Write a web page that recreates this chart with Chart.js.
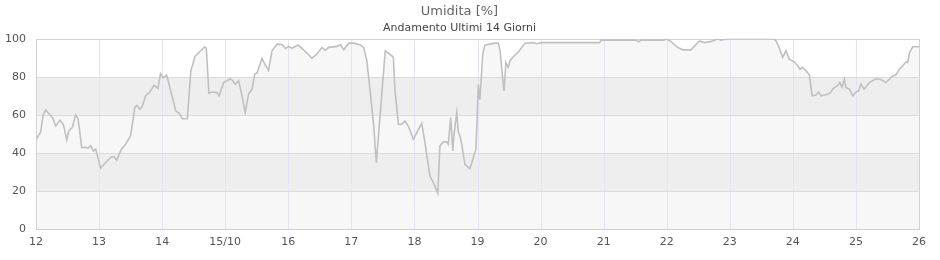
<!DOCTYPE html>
<html lang="it">
<head>
    <meta charset="UTF-8">
    <title>Umidita</title>
    <script src="https://cdn.jsdelivr.net/npm/chart.js"></script>
    <style>
        body {
            margin: 0;
            padding: 0;
            background-color: #ffffff;
        }
        #chart-container {
            width: 940px;
            height: 260px;
        }
    </style>
</head>
<body>
    <div id="chart-container">
        <canvas id="myChart"></canvas>
    </div>

    <script>
        // ore dall'inizio del periodo (12 ottobre 00:00) e umidita letta
        const ore = [
            0, 1.8, 2.7, 3.7, 5.6, 6.5, 7.5, 9.1, 10.4, 11.7, 12.6, 13.8, 15.1, 16, 17.4, 18.9, 19.8, 20.8, 21.8, 22.7,
            24.6, 26.5, 28.7, 29.7, 30.7, 32.5, 34.1, 36, 37.6, 38.4, 39.6, 40.4, 41.7, 43.3, 44.9, 46.4, 47.4, 48.4, 49.7, 50.6,
            53.2, 54.4, 55.7, 57.6, 58.9, 60.5, 62, 64.2, 64.8, 65.8, 67, 68.9, 69.7, 71.4, 73.9, 74.8, 75.8, 77.1, 78.4, 79.6,
            80.9, 82.2, 83.2, 84.1, 86, 87.3, 88.5, 89.8, 91.7, 93.6, 94.9, 96.2, 97.4, 99.7, 101.2, 103.1, 105, 106.9, 108.8, 110.1,
            111.4, 114.5, 115.8, 117.1, 119, 120.9, 123.4, 124.7, 125.9, 127.2, 128.5, 129.5, 132.9, 135.5, 136, 136.6, 137.9, 139.1, 140.4, 141.7,
            143.6, 144.9, 146.8, 148, 149.9, 151.2, 152.9, 153.7, 155, 156.3, 156.9, 157.8, 158.6, 159, 160.1, 160.7, 161.3, 162, 163.2, 165.1,
            166.4, 167.4, 167.9, 168.3, 168.9, 170, 170.8, 172.7, 174.6, 175.9, 176.6, 177.6, 178.1, 178.8, 179.7, 180.4, 182.3, 183.5, 184.8, 186.1,
            189.2, 190.5, 192.4, 214.5, 215, 228.3, 229.3, 230.2, 239, 239.7, 241.2, 244.3, 246.2, 249.3, 250.6, 252.5, 254.4, 256.5, 258.2, 259.5,
            260.6, 263.3, 280.7, 281.6, 282.8, 284.1, 285.4, 286.6, 288.5, 289.8, 290.7, 291.7, 293, 294.3, 295.3, 296.8, 297.8, 298.7, 300.6, 302.1,
            303.4, 305, 305.9, 306.7, 307.6, 308.2, 309.5, 310.8, 312, 313, 313.9, 315.1, 317.1, 319.6, 321.5, 323.4, 326, 327.2, 328.5, 329.8,
            331.1, 331.7, 332.4, 333.6, 336
        ];
        const umidita = [
            47, 51, 60, 62.6, 59.5, 58, 54.2, 57.2, 55, 46.8, 52, 53.3, 60, 58, 42.8, 43, 42.5, 43.7, 41, 42,
            32, 35, 38, 38, 36.2, 42, 44.6, 49, 63.9, 65, 63, 64.4, 70, 72, 75.6, 73.9, 81.8, 79.5, 80.9, 76.2,
            62, 61, 58, 58, 83, 90.7, 92.8, 95.8, 95, 71.4, 72, 71.7, 70, 77, 79, 78, 76.2, 77.9, 70, 61.2,
            70.9, 73.5, 81.4, 82, 89.6, 86.2, 83.5, 93.7, 97.2, 97, 94.9, 96, 95, 96.7, 95, 92.5, 89.8, 92, 95.4, 94,
            95.5, 96, 97, 94.2, 97.7, 97.7, 96.8, 95.5, 88.4, 71.8, 54.2, 34.9, 93.7, 91, 90.2, 73, 55.1, 55, 56.8, 54,
            47.2, 50.7, 55.6, 45.4, 27.9, 24.4, 18.8, 43.7, 45.8, 45.8, 44.5, 58.6, 41, 49, 61.2, 51, 49, 44.5, 34, 31.7,
            37.5, 42, 59.5, 76, 68, 92, 96.7, 97.2, 97.7, 97.7, 93.7, 78.8, 72.6, 87.5, 85, 88.6, 91.6, 93, 95.4, 97.7,
            98, 97.4, 98, 98, 99.3, 99.3, 98.4, 99.3, 99.3, 100, 99, 95.4, 94.2, 94.2, 96.3, 98.9, 98, 98.5, 99.3, 100,
            99.3, 100, 100, 98.9, 95.4, 90.2, 93.7, 89.3, 87.9, 86, 84, 85, 83.2, 81, 70, 70.4, 72, 70, 70.6, 71.4,
            73.9, 75.3, 77, 74.6, 78.8, 74.4, 73.5, 70, 72, 72.6, 76.2, 73.5, 77, 79, 78.6, 77, 80.5, 81, 84, 85.8,
            87.9, 87.5, 92.8, 95.8, 95.8
        ];
        const etichetteGiorni = ['12', '13', '14', '15/10', '16', '17', '18', '19', '20', '21', '22', '23', '24', '25', '26'];
        const fasce = [
            { da: 0, a: 20, colore: '#f7f7f7' },
            { da: 20, a: 40, colore: '#eeeeee' },
            { da: 40, a: 60, colore: '#f7f7f7' },
            { da: 60, a: 80, colore: '#eeeeee' }
        ];

        const punti = ore.map((h, i) => ({ x: h, y: umidita[i] }));

        // fasce e griglia disegnate sopra il riempimento ma sotto la linea
        const sfondoPlugin = {
            id: 'sfondo',
            beforeDatasetsDraw(chart) {
                const { ctx, chartArea, scales } = chart;
                const { left, right, top, bottom } = chartArea;
                ctx.save();
                fasce.forEach(f => {
                    const y1 = scales.y.getPixelForValue(f.a);
                    const y2 = scales.y.getPixelForValue(f.da);
                    ctx.fillStyle = f.colore;
                    ctx.fillRect(left, y1, right - left, y2 - y1);
                });
                ctx.lineWidth = 1;
                ctx.strokeStyle = '#e4e4f4';
                for (let h = 24; h < 336; h += 24) {
                    const x = Math.round(scales.x.getPixelForValue(h)) + 0.5;
                    ctx.beginPath();
                    ctx.moveTo(x, top);
                    ctx.lineTo(x, bottom);
                    ctx.stroke();
                }
                ctx.strokeStyle = '#dcdcdc';
                for (let v = 20; v < 100; v += 20) {
                    const y = Math.round(scales.y.getPixelForValue(v)) + 0.5;
                    ctx.beginPath();
                    ctx.moveTo(left, y);
                    ctx.lineTo(right, y);
                    ctx.stroke();
                }
                ctx.strokeStyle = '#d2d2d2';
                ctx.strokeRect(Math.round(left) + 0.5, Math.round(top) + 0.5,
                    Math.round(right - left), Math.round(bottom - top));
                ctx.restore();
            }
        };

        Chart.defaults.font.family = "'DejaVu Sans', sans-serif";

        const ctx = document.getElementById('myChart').getContext('2d');
        const myChart = new Chart(ctx, {
            type: 'line',
            data: {
                datasets: [{
                    label: 'Umidita',
                    data: punti,
                    borderColor: '#c0c0c0',
                    borderWidth: 1.6,
                    backgroundColor: '#f7f7f7',
                    fill: 'origin',
                    pointRadius: 0,
                    tension: 0,
                }]
            },
            options: {
                responsive: true,
                maintainAspectRatio: false,
                animation: false,
                layout: { padding: { left: 0, right: 21, top: 0, bottom: 0 } },
                plugins: {
                    legend: { display: false },
                    tooltip: { enabled: false },
                    filler: { drawTime: 'beforeDatasetsDraw' },
                    title: {
                        display: true,
                        text: 'Umidita [%]',
                        color: '#666666',
                        font: { size: 13, weight: 'normal' },
                        padding: { top: 4, bottom: 2 }
                    },
                    subtitle: {
                        display: true,
                        text: 'Andamento Ultimi 14 Giorni',
                        color: '#444444',
                        font: { size: 11 },
                        padding: { top: 0, bottom: 4 }
                    }
                },
                scales: {
                    x: {
                        type: 'linear',
                        min: 0,
                        max: 336,
                        grid: { display: false, drawTicks: false },
                        border: { display: false },
                        ticks: {
                            stepSize: 24,
                            padding: 7,
                            color: '#555555',
                            font: { size: 11 },
                            maxRotation: 0,
                            autoSkip: false,
                            callback: (v) => etichetteGiorni[Math.round(v / 24)]
                        },
                        afterFit: (scale) => { scale.height = 31; }
                    },
                    y: {
                        min: 0,
                        max: 100,
                        grid: { display: false, drawTicks: false },
                        border: { display: false },
                        ticks: {
                            stepSize: 20,
                            padding: 10,
                            color: '#555555',
                            font: { size: 11 }
                        },
                        afterFit: (scale) => { scale.width = 36; }
                    }
                }
            },
            plugins: [sfondoPlugin]
        });
    </script>
</body>
</html>
